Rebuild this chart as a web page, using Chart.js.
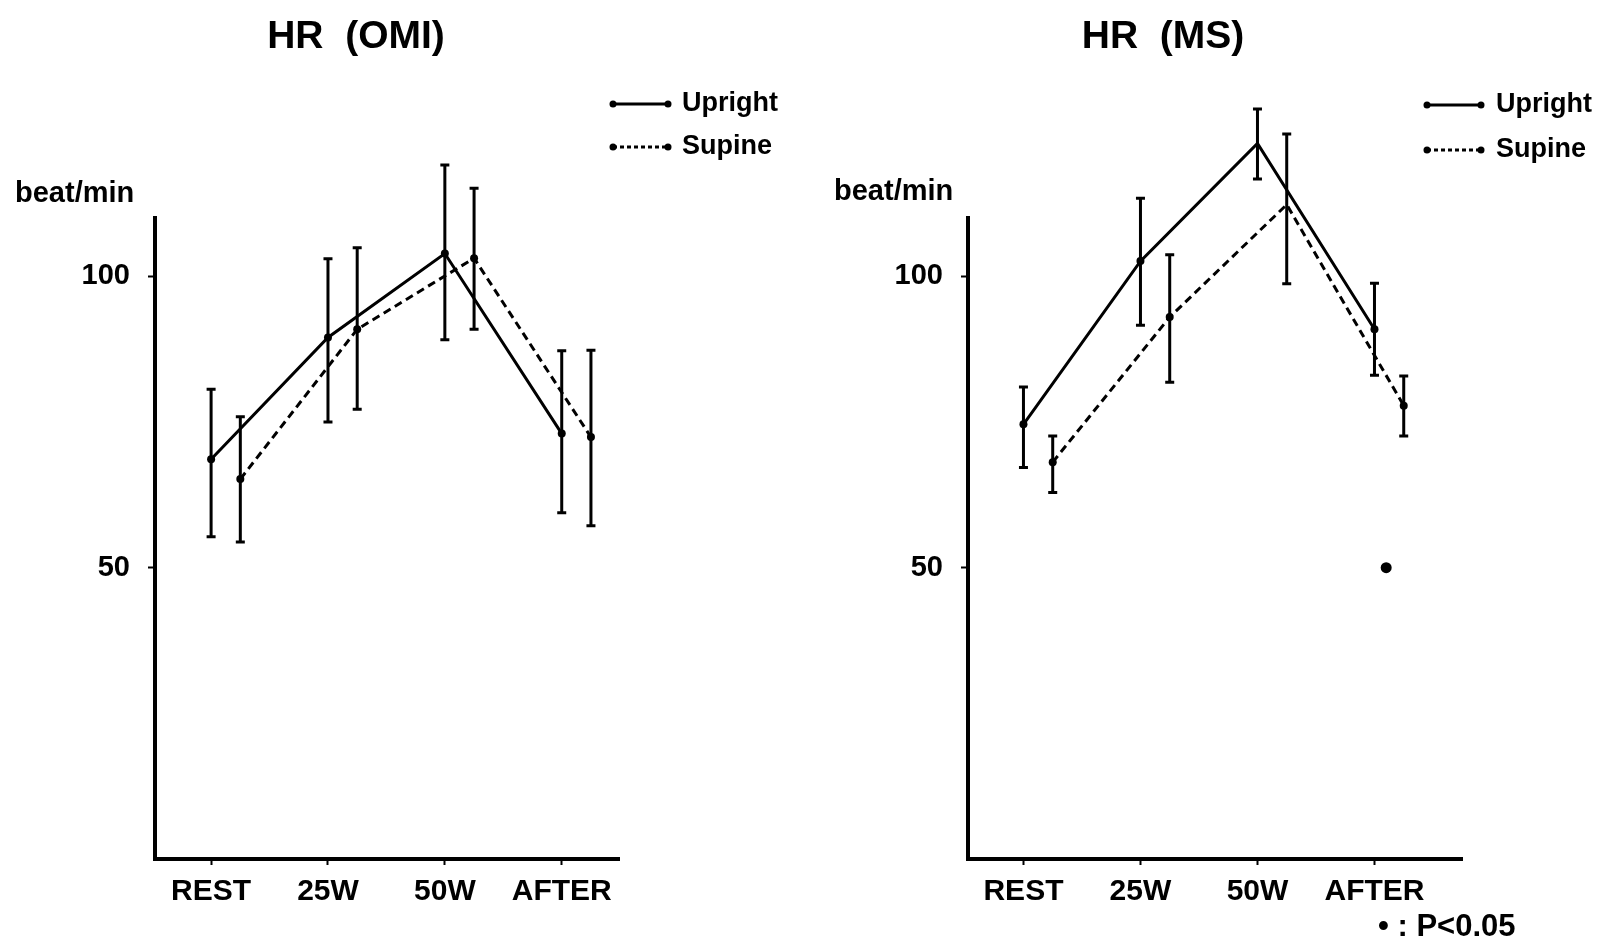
<!DOCTYPE html>
<html>
<head>
<meta charset="utf-8">
<script src="https://cdn.jsdelivr.net/npm/chart.js@4.4.1/dist/chart.umd.min.js"></script>
<style>
  html, body { margin: 0; padding: 0; background: #fff; width: 1604px; height: 939px; overflow: hidden; }
  canvas { position: absolute; top: 0; }
  #omi { left: 0; }
  #ms { left: 800px; }
</style>
</head>
<body>
<canvas id="omi" width="800" height="939"></canvas>
<canvas id="ms" width="804" height="939"></canvas>
<script>
// Exercise stages and y-axis ticks
const categories = ['REST', '25W', '50W', 'AFTER'];
const yTickValues = [50, 100];
const seriesNames = ['Upright', 'Supine'];

// Heart rate, OMI group (mean and SD range, beat/min)
const omiUpright     = [68.6, 89.5, 103.9, 73.0];
const omiUprightLow  = [55.3, 75.0,  89.1, 59.4];
const omiUprightHigh = [80.6, 103.0, 119.1, 87.2];
const omiSupine      = [65.2, 90.9, 103.1, 72.4];
const omiSupineLow   = [54.4, 77.2,  90.9, 57.2];
const omiSupineHigh  = [75.9, 104.9, 115.1, 87.3];

// Heart rate, MS group (mean and SD range, beat/min)
const msUpright      = [74.6, 102.6, 122.8, 90.9];
const msUprightLow   = [67.2,  91.6, 116.7, 83.0];
const msUprightHigh  = [81.0, 113.4, 128.7, 98.8];
const msSupine       = [68.1,  93.0, 112.3, 77.8];
const msSupineLow    = [62.9,  81.8,  98.7, 72.6];
const msSupineHigh   = [72.6, 103.7, 124.4, 82.9];

// Significance marker (P<0.05), placed after exercise in the MS panel
const msSignificance = [{ x: 3.1, y: 50 }];

// Supine points sit slightly right of each stage
const supineShift = 0.25;

const FONT = '"Liberation Sans", Arial, sans-serif';
const NARROW = '"Liberation Sans Narrow", "Liberation Sans", Arial, sans-serif';

const toPoints = (vals, shift) => vals.map((v, i) => ({ x: i + shift, y: v }));

// Vertical SD bars with small caps, positioned through the chart's scales
const errorBars = {
  id: 'errorBars',
  afterDatasetsDraw(chart, args, opts) {
    const ctx = chart.ctx;
    const yScale = chart.scales.y;
    chart.data.datasets.forEach((ds, di) => {
      if (!ds.errLow) return;
      const meta = chart.getDatasetMeta(di);
      ctx.save();
      ctx.strokeStyle = '#000';
      ctx.lineWidth = opts.width;
      meta.data.forEach((pt, i) => {
        const x = pt.x;
        const y1 = yScale.getPixelForValue(ds.errLow[i]);
        const y2 = yScale.getPixelForValue(ds.errHigh[i]);
        ctx.beginPath();
        ctx.moveTo(x, y1); ctx.lineTo(x, y2);
        ctx.moveTo(x - opts.cap, y1); ctx.lineTo(x + opts.cap, y1);
        ctx.moveTo(x - opts.cap, y2); ctx.lineTo(x + opts.cap, y2);
        ctx.stroke();
      });
      ctx.restore();
    });
  }
};

// Panel title, unit label, line legend and footnote
const panelDecor = {
  id: 'panelDecor',
  afterDraw(chart, args, o) {
    const ctx = chart.ctx;
    ctx.save();
    ctx.fillStyle = '#000';
    ctx.strokeStyle = '#000';
    ctx.textBaseline = 'middle';

    ctx.font = 'bold 39px ' + FONT;
    ctx.textAlign = 'center';
    ctx.fillText(o.title, o.titleX, o.titleY);

    ctx.font = 'bold 29px ' + FONT;
    ctx.textAlign = 'left';
    ctx.fillText(o.unit, o.unitX, o.unitY);

    chart.data.datasets.filter(ds => ds.inLegend).forEach((ds, k) => {
      const y = o.legendY[k];
      const x1 = o.legendX, x2 = o.legendX + o.legendLine;
      ctx.lineWidth = 3;
      ctx.setLineDash(ds.legendDash || []);
      ctx.beginPath(); ctx.moveTo(x1, y); ctx.lineTo(x2, y); ctx.stroke();
      ctx.setLineDash([]);
      [x1, x2].forEach(px => { ctx.beginPath(); ctx.arc(px, y, 3.5, 0, Math.PI * 2); ctx.fill(); });
      ctx.font = 'bold 27px ' + FONT;
      ctx.fillText(ds.label, x2 + o.legendGap, y);
    });

    if (o.note) {
      ctx.font = 'bold 31px ' + FONT;
      ctx.fillText(o.note, o.noteX, o.noteY);
    }
    ctx.restore();
  }
};

function makePanel(canvasId, cfg) {
  const datasets = [
    {
      label: seriesNames[0], inLegend: true,
      data: toPoints(cfg.upright, 0), errLow: cfg.uprightLow, errHigh: cfg.uprightHigh,
      borderColor: '#000', borderWidth: 3, borderDash: [], legendDash: [],
      pointRadius: 4, pointBackgroundColor: '#000', pointBorderWidth: 0,
      tension: 0, clip: false
    },
    {
      label: seriesNames[1], inLegend: true,
      data: toPoints(cfg.supine, supineShift), errLow: cfg.supineLow, errHigh: cfg.supineHigh,
      borderColor: '#000', borderWidth: 3, borderDash: [8, 5], legendDash: [4, 3],
      pointRadius: 4, pointBackgroundColor: '#000', pointBorderWidth: 0,
      tension: 0, clip: false
    }
  ];
  if (cfg.marks) {
    datasets.push({
      label: 'P<0.05', inLegend: false, data: cfg.marks, showLine: false,
      pointRadius: 5.5, pointBackgroundColor: '#000', pointBorderWidth: 0, clip: false
    });
  }

  return new Chart(document.getElementById(canvasId), {
    type: 'line',
    data: { datasets },
    options: {
      responsive: false,
      animation: false,
      devicePixelRatio: 1,
      layout: { padding: { top: 218, right: cfg.padRight, bottom: 0, left: 0 } },
      plugins: {
        legend: { display: false },
        title: { display: false },
        tooltip: { enabled: false },
        errorBars: { width: 3, cap: 4.5 },
        panelDecor: cfg.decor
      },
      scales: {
        x: {
          type: 'linear',
          min: cfg.xMin, max: cfg.xMax,
          afterBuildTicks: s => { s.ticks = categories.map((c, i) => ({ value: i })); },
          afterFit: s => { s.height = 80; },
          ticks: {
            callback: v => categories[v],
            autoSkip: false, maxRotation: 0, padding: 9,
            color: '#000', font: { family: FONT, size: 30, weight: 'bold' }
          },
          grid: { display: true, drawOnChartArea: false, drawTicks: true, tickLength: 6, tickWidth: 2, tickColor: '#000', color: '#000' },
          border: { display: true, width: 4, color: '#000' }
        },
        y: {
          type: 'linear',
          min: 0, max: 110,
          afterBuildTicks: s => { s.ticks = yTickValues.map(v => ({ value: v })); },
          afterFit: s => { s.width = cfg.yAxisWidth; },
          ticks: {
            padding: 18,
            color: '#000', font: { family: NARROW, size: 29, weight: 'bold' }
          },
          grid: { display: true, drawOnChartArea: false, drawTicks: true, tickLength: 7, tickWidth: 2, tickColor: '#000', color: '#000' },
          border: { display: true, width: 4, color: '#000' }
        }
      }
    },
    plugins: [errorBars, panelDecor]
  });
}

makePanel('omi', {
  upright: omiUpright, uprightLow: omiUprightLow, uprightHigh: omiUprightHigh,
  supine: omiSupine, supineLow: omiSupineLow, supineHigh: omiSupineHigh,
  xMin: -0.48, xMax: 3.49, yAxisWidth: 155, padRight: 181,
  decor: {
    title: 'HR  (OMI)', titleX: 356, titleY: 37,
    unit: 'beat/min', unitX: 15, unitY: 194,
    legendX: 613, legendLine: 55, legendGap: 14, legendY: [104, 147]
  }
});

makePanel('ms', {
  upright: msUpright, uprightLow: msUprightLow, uprightHigh: msUprightHigh,
  supine: msSupine, supineLow: msSupineLow, supineHigh: msSupineHigh,
  marks: msSignificance,
  xMin: -0.474, xMax: 3.748, yAxisWidth: 168, padRight: 142,
  decor: {
    title: 'HR  (MS)', titleX: 363, titleY: 37,
    unit: 'beat/min', unitX: 34, unitY: 192,
    legendX: 627, legendLine: 54, legendGap: 15, legendY: [105, 150],
    note: '\u2022 : P<0.05', noteX: 578, noteY: 927
  }
});
</script>
</body>
</html>
